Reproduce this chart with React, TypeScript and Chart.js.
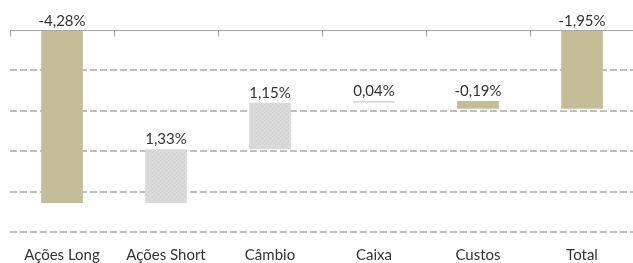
import React, { useEffect, useRef } from 'react';
import { Chart, registerables } from 'chart.js';

Chart.register(...registerables);

const categories = ['Ações Long', 'Ações Short', 'Câmbio', 'Caixa', 'Custos', 'Total'];
const contributions = [-4.28, 1.33, 1.15, 0.04, -0.19];
const totalValue = -1.95;
const yTickValues = [0, -1, -2, -3, -4, -5];

const TAN = '#C4BD97';
const FONT = 'Lato, "Open Sans", sans-serif';
const TEXT = '#333333';

function makePattern(): CanvasPattern | string {
  const c = document.createElement('canvas');
  c.width = 4;
  c.height = 4;
  const g = c.getContext('2d');
  if (!g) return '#D9D9D9';
  g.fillStyle = '#D9D9D9';
  g.fillRect(0, 0, 4, 4);
  g.fillStyle = '#D1D1D1';
  g.fillRect(0, 0, 1, 1);
  g.fillRect(2, 2, 1, 1);
  g.fillStyle = '#DFDFDF';
  g.fillRect(2, 0, 1, 1);
  g.fillRect(0, 2, 1, 1);
  return g.createPattern(c, 'repeat') || '#D9D9D9';
}

function fmt(v: number) {
  return v.toFixed(2).replace('.', ',') + '%';
}

export default function App() {
  const ref = useRef<HTMLCanvasElement | null>(null);

  useEffect(() => {
    if (!ref.current) return;
    const ranges: [number, number][] = [];
    let run = 0;
    contributions.forEach((v) => {
      ranges.push([run, run + v]);
      run += v;
    });
    ranges.push([0, totalValue]);
    const labelValues = [...contributions, totalValue];
    const pattern = makePattern();
    const colors = labelValues.map((v, i) => (i === labelValues.length - 1 || v < 0 ? TAN : pattern));

    const overlay = {
      id: 'overlay',
      beforeDatasetsDraw(chart: any) {
        const { ctx, scales } = chart;
        const x = scales.x;
        const y = scales.y;
        const y0 = Math.round(y.getPixelForValue(0)) + 0.5;
        ctx.save();
        ctx.strokeStyle = '#A6A6A6';
        ctx.lineWidth = 1;
        ctx.beginPath();
        ctx.moveTo(x.left, y0);
        ctx.lineTo(x.right, y0);
        const n = categories.length;
        const w = (x.right - x.left) / n;
        for (let i = 0; i <= n; i++) {
          const px = Math.round(x.getPixelForValue(i) - w / 2) + 0.5;
          ctx.moveTo(px, y0);
          ctx.lineTo(px, y0 + 6);
        }
        ctx.stroke();
        ctx.restore();
      },
      afterDatasetsDraw(chart: any) {
        const { ctx } = chart;
        const meta = chart.getDatasetMeta(0);
        ctx.save();
        ctx.font = '15px ' + FONT;
        ctx.fillStyle = TEXT;
        ctx.textAlign = 'center';
        ctx.textBaseline = 'middle';
        meta.data.forEach((el: any, i: number) => {
          const top = Math.min(el.y, el.base);
          ctx.fillText(fmt(labelValues[i]), el.x, top - 10);
        });
        ctx.restore();
      },
    };

    const chart = new Chart(ref.current, {
      type: 'bar',
      data: {
        labels: categories,
        datasets: [
          {
            data: ranges as any,
            backgroundColor: colors as any,
            borderWidth: 0,
            borderSkipped: false,
            barPercentage: 0.4,
            categoryPercentage: 1,
          },
        ],
      },
      options: {
        responsive: false,
        animation: false,
        layout: { padding: { left: 10, right: 11, top: 30, bottom: 0 } },
        plugins: {
          legend: { display: false },
          tooltip: { enabled: false },
          title: { display: false },
        },
        scales: {
          x: {
            grid: { display: false, drawTicks: false },
            border: { display: false },
            afterFit: (s: any) => {
              s.height = 31;
            },
            ticks: {
              color: TEXT,
              font: { family: FONT, size: 15 },
              padding: 14,
              maxRotation: 0,
              autoSkip: false,
            },
          },
          y: {
            min: -5,
            max: 0,
            afterBuildTicks: (scale: any) => {
              scale.ticks = yTickValues.map((v) => ({ value: v }));
            },
            ticks: { display: false },
            border: { display: false, dash: [7, 3] },
            grid: {
              drawTicks: false,
              lineWidth: 2,
              color: (c: any) => (c.tick && c.tick.value === 0 ? 'rgba(0,0,0,0)' : '#BFBFBF'),
            },
          },
        },
      },
      plugins: [overlay],
    });
    return () => chart.destroy();
  }, []);

  return (
    <div style={{ position: 'absolute', left: 0, top: 0, width: 633, height: 263, overflow: 'hidden', background: '#fff' }}>
      <canvas ref={ref} width={645} height={263} style={{ width: 645, height: 263 }} />
    </div>
  );
}
